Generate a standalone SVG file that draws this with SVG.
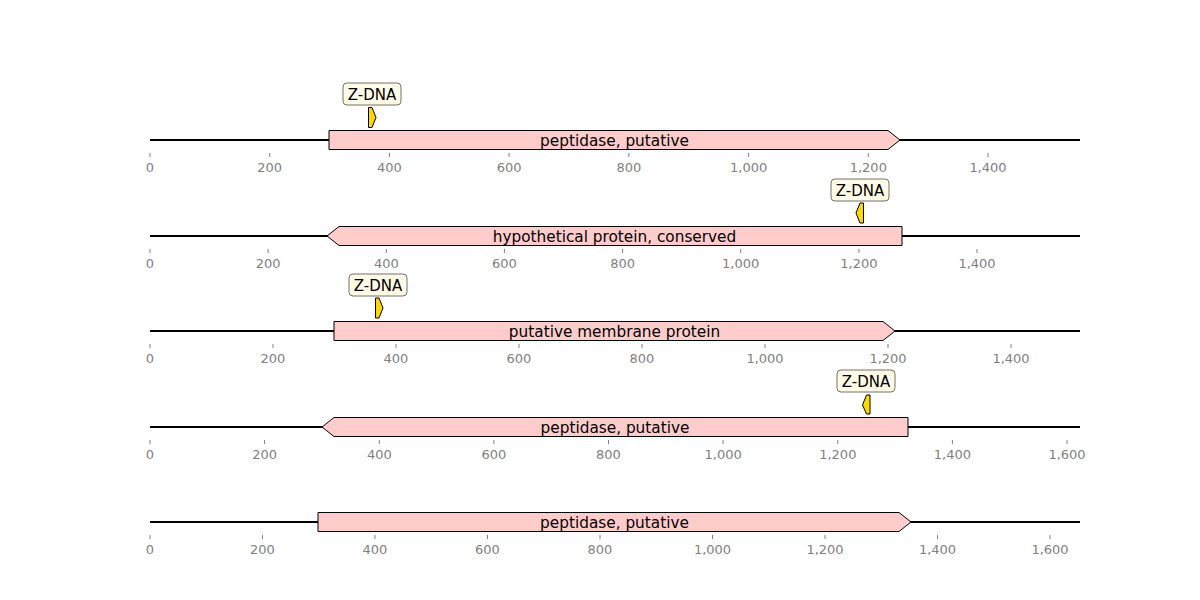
<svg xmlns="http://www.w3.org/2000/svg" width="1200" height="600" viewBox="0 0 1200 600">
<style>
.bb{stroke:#000;stroke-width:1.9;fill:none}
.gene{fill:#ffcccc;stroke:#000;stroke-width:1}
.glab{font-family:"DejaVu Sans",sans-serif;font-size:15.3px;fill:#000;text-anchor:middle}
.tk{stroke:#808080;stroke-width:1}
.tl{font-family:"DejaVu Sans",sans-serif;font-size:13px;fill:#808080;text-anchor:middle}
.z{fill:#ffd700;stroke:#000;stroke-width:1}
.zb{fill:#fffbe6;stroke:#737368;stroke-width:1}
.zl{font-family:"DejaVu Sans",sans-serif;font-size:15px;fill:#000;text-anchor:middle}
</style>
<rect width="1200" height="600" fill="#fff"/>
<g id="connectors">
<line class="bb" x1="150" y1="140" x2="1080" y2="140"/>
<line class="bb" x1="150" y1="236" x2="1080" y2="236"/>
<line class="bb" x1="150" y1="331" x2="1080" y2="331"/>
<line class="bb" x1="150" y1="427" x2="1080" y2="427"/>
<line class="bb" x1="150" y1="522" x2="1080" y2="522"/>
</g>
<g id="axis1">
<path class="tk" d="M150 153v4M269.7 153v4M389.4 153v4M509.1 153v4M628.9 153v4M748.6 153v4M868.3 153v4M988 153v4"/>
<text class="tl" y="172"><tspan x="150">0</tspan><tspan x="269.7">200</tspan><tspan x="389.4">400</tspan><tspan x="509.1">600</tspan><tspan x="628.9">800</tspan><tspan x="748.6">1,000</tspan><tspan x="868.3">1,200</tspan><tspan x="988">1,400</tspan></text>
</g>
<g id="gene1">
<polygon class="gene" points="329,130.5 888,130.5 900,140 888,149.5 329,149.5"/>
<text class="glab" x="614.5" y="145.5">peptidase, putative</text>
</g>
<g id="zdna1">
<polygon class="z" points="368.5,107.5 372,107.5 376,117.5 372,127.5 368.5,127.5"/>
<rect class="zb" x="343" y="83" width="58" height="22" rx="4"/>
<text class="zl" x="372" y="99.5">Z-DNA</text>
</g>
<g id="axis2">
<path class="tk" d="M150 249v4M268.1 249v4M386.3 249v4M504.4 249v4M622.6 249v4M740.7 249v4M858.9 249v4M977 249v4"/>
<text class="tl" y="268"><tspan x="150">0</tspan><tspan x="268.1">200</tspan><tspan x="386.3">400</tspan><tspan x="504.4">600</tspan><tspan x="622.6">800</tspan><tspan x="740.7">1,000</tspan><tspan x="858.9">1,200</tspan><tspan x="977">1,400</tspan></text>
</g>
<g id="gene2">
<polygon class="gene" points="327,236 339,226.5 902,226.5 902,245.5 339,245.5"/>
<text class="glab" x="614.5" y="241.5">hypothetical protein, conserved</text>
</g>
<g id="zdna2">
<polygon class="z" points="863.5,203 860,203 856,213 860,223 863.5,223"/>
<rect class="zb" x="831" y="179" width="58" height="22" rx="4"/>
<text class="zl" x="860" y="195.5">Z-DNA</text>
</g>
<g id="axis3">
<path class="tk" d="M150 344v4M273 344v4M396 344v4M519 344v4M642 344v4M765 344v4M888 344v4M1011 344v4"/>
<text class="tl" y="363"><tspan x="150">0</tspan><tspan x="273">200</tspan><tspan x="396">400</tspan><tspan x="519">600</tspan><tspan x="642">800</tspan><tspan x="765">1,000</tspan><tspan x="888">1,200</tspan><tspan x="1011">1,400</tspan></text>
</g>
<g id="gene3">
<polygon class="gene" points="334,321.5 883,321.5 895,331 883,340.5 334,340.5"/>
<text class="glab" x="614.5" y="336.5">putative membrane protein</text>
</g>
<g id="zdna3">
<polygon class="z" points="375.5,298 379,298 383,308 379,318 375.5,318"/>
<rect class="zb" x="349" y="274" width="58" height="22" rx="4"/>
<text class="zl" x="378" y="290.5">Z-DNA</text>
</g>
<g id="axis4">
<path class="tk" d="M150 440v4M264.6 440v4M379.3 440v4M493.9 440v4M608.5 440v4M723.1 440v4M837.8 440v4M952.4 440v4M1067 440v4"/>
<text class="tl" y="459"><tspan x="150">0</tspan><tspan x="264.6">200</tspan><tspan x="379.3">400</tspan><tspan x="493.9">600</tspan><tspan x="608.5">800</tspan><tspan x="723.1">1,000</tspan><tspan x="837.8">1,200</tspan><tspan x="952.4">1,400</tspan><tspan x="1067">1,600</tspan></text>
</g>
<g id="gene4">
<polygon class="gene" points="322,427 334,417.5 908,417.5 908,436.5 334,436.5"/>
<text class="glab" x="615" y="432.5">peptidase, putative</text>
</g>
<g id="zdna4">
<polygon class="z" points="870,395 866.5,395 862.5,405 866.5,414 870,414"/>
<rect class="zb" x="837" y="370" width="58" height="22" rx="4"/>
<text class="zl" x="866" y="386.5">Z-DNA</text>
</g>
<g id="axis5">
<path class="tk" d="M150 535v4M262.5 535v4M375 535v4M487.5 535v4M600 535v4M712.5 535v4M825 535v4M937.5 535v4M1050 535v4"/>
<text class="tl" y="554"><tspan x="150">0</tspan><tspan x="262.5">200</tspan><tspan x="375">400</tspan><tspan x="487.5">600</tspan><tspan x="600">800</tspan><tspan x="712.5">1,000</tspan><tspan x="825">1,200</tspan><tspan x="937.5">1,400</tspan><tspan x="1050">1,600</tspan></text>
</g>
<g id="gene5">
<polygon class="gene" points="318,512.5 899,512.5 911,522 899,531.5 318,531.5"/>
<text class="glab" x="614.5" y="527.5">peptidase, putative</text>
</g>
</svg>
